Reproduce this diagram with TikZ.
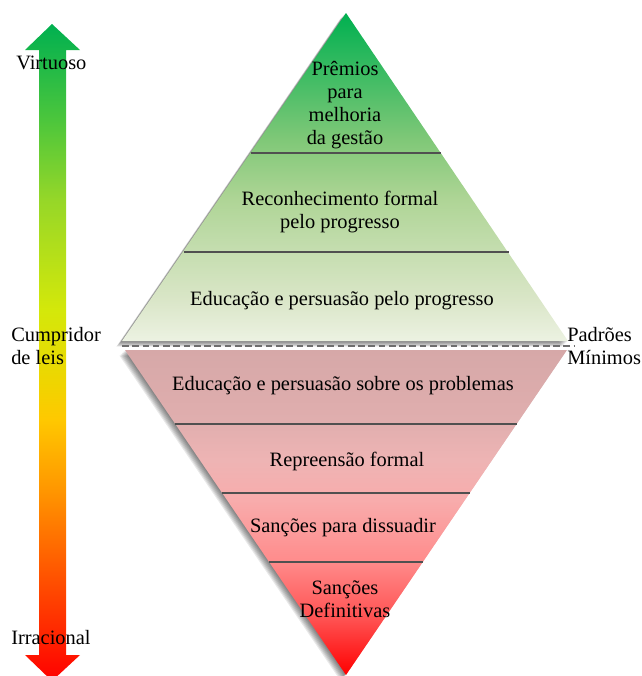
\documentclass[tikz,border=0pt]{standalone}
\usepackage{fontspec}
\setmainfont{Liberation Serif}
\definecolor{a0}{RGB}{255,0,0}
\definecolor{a1}{RGB}{255,80,0}
\definecolor{a2}{RGB}{255,150,0}
\definecolor{a3}{RGB}{255,200,0}
\definecolor{a4}{RGB}{240,212,0}
\definecolor{a5}{RGB}{212,232,10}
\definecolor{a6}{RGB}{150,215,40}
\definecolor{a7}{RGB}{76,198,60}
\definecolor{a8}{RGB}{0,176,80}
\pgfdeclareverticalshading{arrowshade}{100bp}{color(0bp)=(a0); color(25bp)=(a0); color(32.7bp)=(a1); color(39.5bp)=(a2); color(44.9bp)=(a3); color(47.5bp)=(a4); color(53.2bp)=(a5); color(61.6bp)=(a6); color(67.7bp)=(a7); color(75bp)=(a8); color(100bp)=(a8)}
\definecolor{u0}{RGB}{236,242,226}
\definecolor{u1}{RGB}{218,230,200}
\definecolor{u2}{RGB}{175,213,150}
\definecolor{u3}{RGB}{128,200,120}
\definecolor{u4}{RGB}{0,176,80}
\pgfdeclareverticalshading{upshade}{100bp}{color(0bp)=(u0); color(25bp)=(u0); color(31.25bp)=(u1); color(46.5bp)=(u2); color(55.6bp)=(u3); color(75bp)=(u4); color(100bp)=(u4)}
\definecolor{d0}{RGB}{255,0,0}
\definecolor{d1}{RGB}{255,80,80}
\definecolor{d2}{RGB}{255,140,140}
\definecolor{d3}{RGB}{248,172,172}
\definecolor{d4}{RGB}{238,180,180}
\definecolor{d5}{RGB}{224,174,174}
\definecolor{d6}{RGB}{214,168,168}
\pgfdeclareverticalshading{downshade}{100bp}{color(0bp)=(d0); color(25bp)=(d0); color(33.5bp)=(d1); color(42.7bp)=(d2); color(51.9bp)=(d3); color(58bp)=(d4); color(64.2bp)=(d5); color(75bp)=(d6); color(100bp)=(d6)}
\definecolor{sepline}{RGB}{80,80,80}
\definecolor{dashline}{RGB}{110,110,110}
\begin{document}
\begin{tikzpicture}[x=0.75pt,y=-0.75pt,
  lbl/.style={font=\fontsize{15.3}{17.25}\selectfont, align=center, inner sep=0pt, text=black},
  side/.style={lbl, align=left, anchor=west},
  sep/.style={draw=sepline, line width=1.1pt},
  shadowlayer/.style={fill=black, fill opacity=0.085}]
\useasboundingbox (0,0) rectangle (642,676);
% arrow
\shade[shading=arrowshade] (52,24) -- (80,50) -- (66,50) -- (66,655) -- (80,655) -- (52,681) -- (25,655) -- (39,655) -- (39,50) -- (25,50) -- cycle;
% shadows
\foreach \d in {1,2,3,4,5,6,7}{
  \begin{scope}[shift={(-0.8*\d,0.8*\d)}]
    \fill[shadowlayer] (346,13) -- (568,341) -- (122,341) -- cycle;
    \fill[shadowlayer] (125,350) -- (567,350) -- (346,675) -- cycle;
  \end{scope}
}
% triangles
\shade[shading=upshade] (346,13) -- (568,341) -- (122,341) -- cycle;
\shade[shading=downshade] (125,350) -- (567,350) -- (346,675) -- cycle;
% separators
\draw[sep] (250.8,153) -- (441.2,153);
\draw[sep] (183.5,252) -- (508.5,252);
\draw[sep] (175.3,424) -- (516.7,424);
\draw[sep] (222.2,493) -- (469.8,493);
\draw[sep] (269.2,562) -- (422.8,562);
% dashed line
\draw[draw=dashline, line width=1.5pt, dash pattern=on 5pt off 2.7pt] (122,346) -- (575,346);
% labels
\node[lbl] (t1) at (345,105) {Prêmios\\para\\melhoria\\da gestão};
\node[lbl] (t2) at (340,212) {Reconhecimento formal\\pelo progresso};
\node[lbl] (t3) at (342,301) {Educação e persuasão pelo progresso};
\node[lbl] (t4) at (343,386) {Educação e persuasão sobre os problemas};
\node[lbl] (t5) at (347,461) {Repreensão formal};
\node[lbl] (t6) at (343,528) {Sanções para dissuadir};
\node[lbl] (t7) at (345,599) {Sanções\\Definitivas};
\node[side] (v) at (16,63) {Virtuoso};
\node[side] (c) at (11,346) {Cumpridor\\de leis};
\node[side] (i) at (11,638) {Irracional};
\node[side] (p) at (567,346) {Padrões\\Mínimos};
\end{tikzpicture}
\end{document}
